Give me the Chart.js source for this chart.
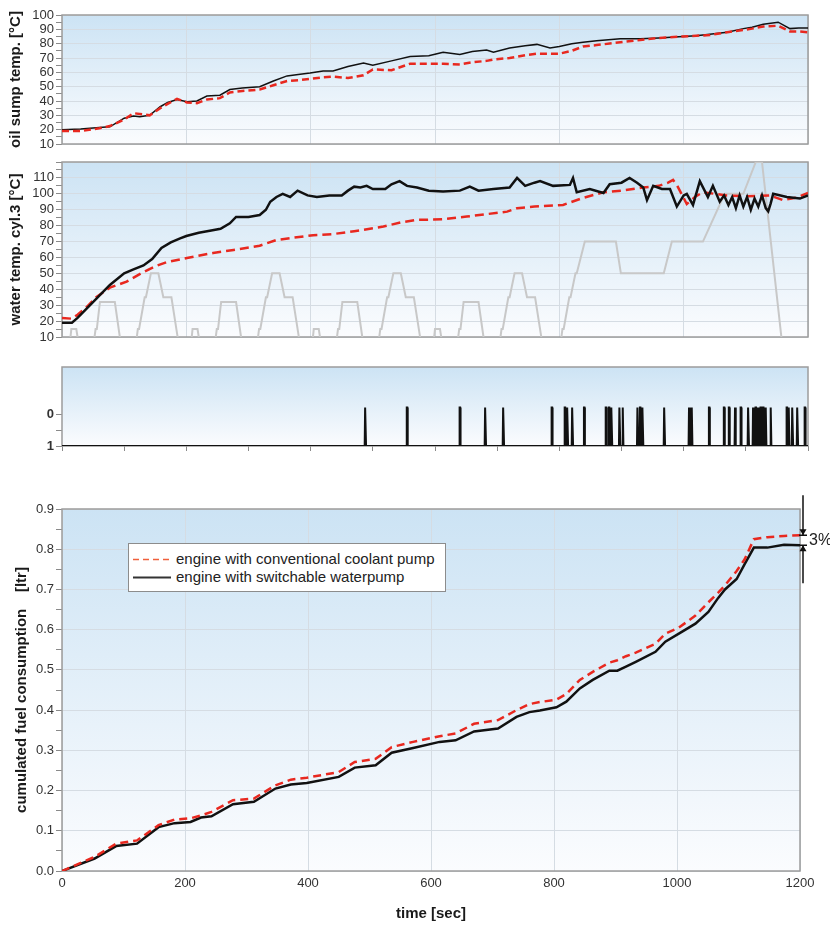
<!DOCTYPE html>
<html>
<head>
<meta charset="utf-8">
<title>engine warm-up and fuel consumption</title>
<script src="https://cdn.jsdelivr.net/npm/chart.js@4.4.0/dist/chart.umd.min.js"></script>
<style>
    html, body { margin: 0; padding: 0; background: #fff; }
    #page { position: relative; width: 830px; height: 925px; overflow: hidden; font-family: "Liberation Sans", Arial, sans-serif; }
    #page canvas { position: absolute; left: 0; }
    #legend { position: absolute; left: 128px; top: 543px; width: 316px; height: 47px; background: #fff; border: 1px solid #8c8c8c; font-size: 15px; color: #222; }
    #legend .row { position: absolute; left: 4px; height: 18px; line-height: 18px; white-space: nowrap; }
    #legend svg { position: absolute; left: 0; top: 8px; }
    #legend span { position: absolute; left: 43px; top: 0; }
</style>
</head>
<body>
<div id="page">
    <canvas id="oilChart" width="830" height="160" style="top:0"></canvas>
    <canvas id="waterChart" width="830" height="205" style="top:145px"></canvas>
    <canvas id="switchChart" width="830" height="125" style="top:350px"></canvas>
    <canvas id="fuelChart" width="830" height="445" style="top:480px"></canvas>
    <div id="legend">
        <div class="row" style="top:6px">
            <svg width="38" height="3"><line x1="0" y1="1.5" x2="38" y2="1.5" stroke="#f0603c" stroke-width="1.5" stroke-dasharray="6,4"/></svg>
            <span>engine with conventional coolant pump</span>
        </div>
        <div class="row" style="top:24px">
            <svg width="38" height="3"><line x1="0" y1="1.5" x2="38" y2="1.5" stroke="#333" stroke-width="2"/></svg>
            <span>engine with switchable waterpump</span>
        </div>
    </div>
</div>
<script>
// oil sump temperature [°C]
var oilTime = [0, 30, 60, 77, 100, 115, 125, 141, 158, 170,
    185, 201, 217, 233, 254, 270, 290, 318, 340, 362,
    380, 399, 420, 436, 460, 485, 500, 530, 560, 590,
    613, 640, 660, 683, 694, 720, 745, 764, 785, 800,
    820, 838, 860, 898, 930, 960, 999, 1020, 1042, 1070,
    1096, 1110, 1128, 1152, 1171, 1185, 1200];
var oilSwitchable = [20, 20.5, 21.5, 22, 28, 29.5, 29, 30, 36, 39,
    41, 39.5, 40, 43.5, 44, 48, 49, 50, 54, 57.5,
    58.5, 59.5, 61, 61, 64, 66.5, 65, 68, 71, 71.5,
    74, 72.5, 74.5, 75.5, 74, 77, 78.5, 79.5, 77, 78,
    80, 81, 82, 83.5, 83.5, 84, 85, 85.5, 86.5, 88,
    90.5, 91.5, 93.5, 95, 90.5, 91, 91];
var oilConventional = [19, 19, 21, 22.5, 27, 31.5, 31, 30, 35, 38,
    41.5, 39, 38.5, 41, 42, 46, 47, 48, 51, 54,
    54.5, 55.5, 56.5, 57, 56, 58, 62, 61.5, 66, 66,
    66, 65.5, 67, 68, 69, 70, 72, 73, 73, 73,
    75, 78, 79, 81, 82.5, 84, 85, 85.5, 86, 88,
    89.5, 90.5, 92, 92.5, 88.5, 88.5, 88];

// water temperature cyl.3 [°C]
var waterTimeSwitchable = [0, 16, 25, 40, 55, 77, 100, 115, 131, 145,
    160, 175, 190, 200, 220, 240, 255, 270, 280, 300,
    318, 328, 335, 345, 355, 367, 379, 395, 410, 430,
    450, 460, 470, 480, 490, 500, 520, 530, 543, 555,
    571, 590, 613, 640, 656, 670, 694, 720, 732, 745,
    760, 769, 790, 817, 822, 828, 849, 871, 881, 900,
    913, 925, 935, 941, 951, 965, 978, 989, 1000, 1005,
    1015, 1026, 1039, 1047, 1058, 1065, 1072, 1078, 1084, 1090,
    1096, 1102, 1108, 1114, 1120, 1126, 1132, 1136, 1140, 1144,
    1166, 1187, 1200];
var waterSwitchable = [19, 19, 22, 28, 34, 42.7, 50, 52.5, 55, 59,
    66, 69.5, 72, 73.5, 75.5, 77, 78, 81.5, 85.5, 85.5,
    86.7, 90, 95, 98, 100, 98, 102, 99, 98, 99,
    99, 102, 104.5, 104, 105, 103, 103, 106, 108, 105,
    104, 102, 101.4, 102, 104.5, 102, 103, 104, 110, 105,
    107, 108, 105, 105.6, 110, 101, 103, 100.5, 106, 107,
    110, 107, 104, 96, 105, 103, 103, 92, 99, 100,
    93, 108, 98, 105, 95, 99, 93, 98, 91, 99,
    92, 98, 90, 97, 92, 99, 91, 89, 94, 100,
    98, 97, 99];
var waterTimeConventional = [0, 16, 25, 40, 55, 77, 104, 131, 152, 168,
    201, 243, 276, 318, 345, 404, 436, 470, 517, 545,
    571, 613, 651, 716, 732, 760, 806, 838, 871, 900,
    935, 960, 975, 983, 989, 1005, 1018, 1031, 1050, 1069,
    1100, 1139, 1160, 1180, 1200];
var waterConventional = [22, 21.5, 24, 29, 35, 41, 44.8, 50.8, 54.8, 57,
    59.7, 62.8, 64.7, 67.4, 71, 74, 74.7, 76.5, 79.4, 82,
    83.6, 84, 85.7, 88.8, 91, 92, 93, 97.4, 101, 102,
    104, 105, 107, 108.7, 105.6, 93.6, 98, 101, 100, 99,
    98.5, 99, 96, 97.5, 100.5];

// vehicle speed of the driving cycle [km/h], grey trace in the water panel
var speedTime = [0, 11, 15, 23, 25, 28, 49, 54, 56, 61, 85, 93, 96, 117, 122, 124, 133, 135, 143, 155, 163, 176, 186, 188,
    195, 206, 210, 218, 220, 223, 244, 249, 251, 256, 280, 288, 291, 312, 317, 319, 328, 330, 338, 350, 358, 371, 381, 383,
    390, 401, 405, 413, 415, 418, 439, 444, 446, 451, 475, 483, 486, 507, 512, 514, 523, 525, 533, 545, 553, 566, 576, 578,
    585, 596, 600, 608, 610, 613, 634, 639, 641, 646, 670, 678, 681, 702, 707, 709, 718, 720, 728, 740, 748, 761, 771, 773,
    780, 800, 805, 807, 816, 818, 826, 828, 841, 891, 899, 968, 981, 1031, 1066, 1096, 1116, 1126, 1160, 1180, 1200];
var speedValue = [0, 0, 15, 15, 10, 0, 0, 15, 15, 32, 32, 10, 0, 0, 15, 15, 35, 35, 50, 50, 35, 35, 10, 0,
    0, 0, 15, 15, 10, 0, 0, 15, 15, 32, 32, 10, 0, 0, 15, 15, 35, 35, 50, 50, 35, 35, 10, 0,
    0, 0, 15, 15, 10, 0, 0, 15, 15, 32, 32, 10, 0, 0, 15, 15, 35, 35, 50, 50, 35, 35, 10, 0,
    0, 0, 15, 15, 10, 0, 0, 15, 15, 32, 32, 10, 0, 0, 15, 15, 35, 35, 50, 50, 35, 35, 10, 0,
    0, 0, 15, 15, 35, 35, 50, 50, 70, 70, 50, 50, 70, 70, 100, 100, 120, 120, 0, 0, 0];

// pump switching signal: moments where it goes from 1 to 0 and back
var switchTimes = [488, 555, 640, 681, 710, 788, 809, 813, 821, 840,
    875, 880, 884, 897, 902, 926, 930, 934, 969, 1009,
    1013, 1041, 1065, 1073, 1083, 1092, 1104, 1112, 1116, 1120,
    1124, 1128, 1132, 1140, 1166, 1169, 1175, 1183, 1195];
var switchPeak = -0.2;

// cumulated fuel consumption [ltr]
var fuelTime = [0, 53, 88, 122, 157, 183, 209, 226, 243, 278,
    312, 347, 372, 398, 450, 476, 510, 536, 571, 614,
    640, 670, 709, 739, 760, 777, 804, 820, 842, 863,
    890, 903, 917, 933, 965, 981, 1003, 1030, 1051, 1067,
    1078, 1097, 1110, 1125, 1147, 1174, 1200];
var fuelSwitchable = [0, 0.031, 0.062, 0.068, 0.109, 0.119, 0.122, 0.133, 0.136, 0.166,
    0.172, 0.205, 0.215, 0.219, 0.234, 0.257, 0.263, 0.294, 0.306, 0.321,
    0.325, 0.347, 0.354, 0.383, 0.395, 0.399, 0.407, 0.421, 0.454, 0.475,
    0.498, 0.498, 0.508, 0.520, 0.545, 0.570, 0.590, 0.615, 0.644, 0.679,
    0.700, 0.726, 0.763, 0.804, 0.804, 0.811, 0.810];
var fuelConventional = [0, 0.035, 0.068, 0.076, 0.114, 0.128, 0.131, 0.138, 0.147, 0.176,
    0.180, 0.213, 0.227, 0.232, 0.246, 0.271, 0.279, 0.308, 0.321, 0.335,
    0.342, 0.366, 0.375, 0.400, 0.415, 0.420, 0.426, 0.440, 0.475, 0.495,
    0.518, 0.524, 0.534, 0.543, 0.565, 0.590, 0.605, 0.635, 0.668, 0.692,
    0.710, 0.746, 0.775, 0.825, 0.830, 0.833, 0.835];
var savingLabel = '3%';

Chart.defaults.font.family = '"Liberation Sans", Arial, Helvetica, sans-serif';
Chart.defaults.font.size = 13;
Chart.defaults.color = '#333';

var RED = '#e8281f';
var BLACK = '#111';
var GRID = '#d5dce3';
var FRAME = '#9c9c9c';
var NONE = 'rgba(0,0,0,0)';

function pairs(xs, ys) {
    return xs.map(function (x, i) { return {x: x, y: ys[i]}; });
}

// blue-to-white plot background and grey frame
var panelStyle = {
    id: 'panelStyle',
    beforeDraw: function (chart) {
        var a = chart.chartArea, ctx = chart.ctx;
        var g = ctx.createLinearGradient(0, a.top, 0, a.bottom);
        g.addColorStop(0, '#cce3f4');
        g.addColorStop(1, '#fbfcfe');
        ctx.save();
        ctx.fillStyle = g;
        ctx.fillRect(a.left, a.top, a.right - a.left, a.bottom - a.top);
        ctx.restore();
    },
    beforeDatasetsDraw: function (chart) {
        var a = chart.chartArea, ctx = chart.ctx;
        ctx.save();
        ctx.strokeStyle = FRAME;
        ctx.lineWidth = 1.5;
        ctx.strokeRect(a.left, a.top, a.right - a.left, a.bottom - a.top);
        ctx.restore();
    }
};

// the arrow pair with "3%" at the end of the fuel curves
var savingMarker = {
    id: 'savingMarker',
    afterDraw: function (chart) {
        var ctx = chart.ctx, y = chart.scales.y, a = chart.chartArea;
        var yTop = y.getPixelForValue(fuelConventional[fuelConventional.length - 1]);
        var yBot = y.getPixelForValue(fuelSwitchable[fuelSwitchable.length - 1]);
        var x = a.right + 3;
        ctx.save();
        ctx.strokeStyle = '#111';
        ctx.fillStyle = '#111';
        ctx.lineWidth = 1.5;
        ctx.beginPath();
        ctx.moveTo(x, yTop - 40); ctx.lineTo(x, yTop);
        ctx.moveTo(x, yBot); ctx.lineTo(x, yBot + 38);
        ctx.moveTo(x - 4, yTop); ctx.lineTo(x + 4, yTop);
        ctx.moveTo(x - 4, yBot); ctx.lineTo(x + 4, yBot);
        ctx.stroke();
        ctx.beginPath();
        ctx.moveTo(x - 3.5, yTop - 6); ctx.lineTo(x + 3.5, yTop - 6); ctx.lineTo(x, yTop);
        ctx.closePath();
        ctx.moveTo(x - 3.5, yBot + 6); ctx.lineTo(x + 3.5, yBot + 6); ctx.lineTo(x, yBot);
        ctx.closePath();
        ctx.fill();
        ctx.font = '16px "Liberation Sans", Arial, sans-serif';
        ctx.textBaseline = 'middle';
        ctx.fillStyle = '#222';
        ctx.fillText(savingLabel, x + 6, (yTop + yBot) / 2);
        ctx.restore();
    }
};

function yTitle(text, padTop) {
    return {display: true, text: text, color: '#1a1a1a', font: {size: 15, weight: 'bold'}, padding: {top: padTop, bottom: 0}};
}

function hiddenTimeAxis(height) {
    return {
        type: 'linear', min: 0, max: 1200,
        afterFit: function (s) { s.height = height; },
        ticks: {display: false, stepSize: 200},
        grid: {color: GRID, drawTicks: false},
        border: {display: false}
    };
}

function tempAxis(min, max, lastLabel, title) {
    return {
        min: min, max: max,
        afterFit: function (s) { s.width = 62; },
        ticks: {
            stepSize: 5, autoSkip: false, padding: 2,
            callback: function (v) { return (v % 10 === 0 && v <= lastLabel) ? v : ''; }
        },
        grid: {
            color: function (c) { return c.tick && c.tick.value % 10 === 0 ? GRID : NONE; },
            tickColor: '#8a8a8a', tickLength: 6
        },
        border: {display: false},
        title: yTitle(title, 7)
    };
}

function baseOptions(padding, xAxis, yAxis) {
    return {
        responsive: false,
        animation: false,
        layout: {padding: padding},
        plugins: {legend: {display: false}, tooltip: {enabled: false}},
        elements: {point: {radius: 0}, line: {tension: 0}},
        scales: {x: xAxis, y: yAxis}
    };
}

// panel 1: oil sump temperature
new Chart(document.getElementById('oilChart'), {
    type: 'line',
    data: {
        datasets: [
            {label: 'engine with conventional coolant pump', data: pairs(oilTime, oilConventional),
                borderColor: RED, borderWidth: 2.5, borderDash: [7, 4]},
            {label: 'engine with switchable waterpump', data: pairs(oilTime, oilSwitchable),
                borderColor: BLACK, borderWidth: 1.5}
        ]
    },
    options: baseOptions({top: 15, right: 22, left: 0, bottom: 0},
        hiddenTimeAxis(16), tempAxis(10, 100, 100, 'oil sump temp. [°C]')),
    plugins: [panelStyle]
});

// panel 2: water temperature plus driving cycle speed
new Chart(document.getElementById('waterChart'), {
    type: 'line',
    data: {
        datasets: [
            {label: 'engine with switchable waterpump', data: pairs(waterTimeSwitchable, waterSwitchable),
                borderColor: BLACK, borderWidth: 2.5},
            {label: 'engine with conventional coolant pump', data: pairs(waterTimeConventional, waterConventional),
                borderColor: RED, borderWidth: 2.5, borderDash: [9, 5]},
            {label: 'vehicle speed', data: pairs(speedTime, speedValue),
                borderColor: '#c8c8c8', borderWidth: 2}
        ]
    },
    options: baseOptions({top: 17, right: 22, left: 0, bottom: 0},
        hiddenTimeAxis(13), tempAxis(10, 120, 110, 'water temp. cyl.3 [°C]')),
    plugins: [panelStyle]
});

// panel 3: pump switching signal
var switchData = [{x: 0, y: 1}];
switchTimes.forEach(function (t) {
    switchData.push({x: t - 1.1, y: 1}, {x: t - 0.4, y: switchPeak}, {x: t + 0.4, y: switchPeak}, {x: t + 1.1, y: 1});
});
switchData.push({x: 1200, y: 1});

new Chart(document.getElementById('switchChart'), {
    type: 'line',
    data: {
        datasets: [
            {label: 'pump switch', data: switchData, borderColor: BLACK, borderWidth: 2}
        ]
    },
    options: baseOptions({top: 17, right: 22, left: 0, bottom: 0},
        {
            type: 'linear', min: 0, max: 1200,
            afterFit: function (s) { s.height = 29; },
            ticks: {display: false, stepSize: 100},
            grid: {drawOnChartArea: false, tickColor: '#8a8a8a', tickLength: 5},
            border: {display: false}
        },
        {
            min: -1.47, max: 1, reverse: true,
            afterFit: function (s) { s.width = 62; },
            afterBuildTicks: function (s) { s.ticks = [{value: 0}, {value: 0.5}, {value: 1}]; },
            ticks: {
                padding: 2, font: {weight: 'bold'},
                callback: function (v) { return v === 0.5 ? '' : v; }
            },
            grid: {drawOnChartArea: false, tickColor: '#8a8a8a', tickLength: 6},
            border: {display: false}
        }),
    plugins: [panelStyle]
});

// panel 4: cumulated fuel consumption
new Chart(document.getElementById('fuelChart'), {
    type: 'line',
    data: {
        datasets: [
            {label: 'engine with conventional coolant pump', data: pairs(fuelTime, fuelConventional),
                borderColor: RED, borderWidth: 2.5, borderDash: [8, 5]},
            {label: 'engine with switchable waterpump', data: pairs(fuelTime, fuelSwitchable),
                borderColor: BLACK, borderWidth: 2.5}
        ]
    },
    options: baseOptions({top: 29, right: 30, left: 0, bottom: 0},
        {
            type: 'linear', min: 0, max: 1200,
            afterFit: function (s) { s.height = 54; },
            ticks: {stepSize: 200, padding: 5, maxRotation: 0, callback: function (v) { return String(v); }},
            grid: {color: GRID, drawTicks: false},
            border: {display: false},
            title: {display: true, text: 'time [sec]', color: '#1a1a1a', font: {size: 15, weight: 'bold'}, padding: {top: 0, bottom: 2}}
        },
        {
            min: 0, max: 0.9,
            afterFit: function (s) { s.width = 62; },
            ticks: {
                stepSize: 0.05, autoSkip: false, padding: 2,
                callback: function (v) { return Math.round(v * 100) % 10 === 0 ? v.toFixed(1) : ''; }
            },
            grid: {
                color: function (c) { return c.tick && Math.round(c.tick.value * 100) % 10 === 0 ? GRID : NONE; },
                tickColor: '#8a8a8a', tickLength: 6
            },
            border: {display: false},
            title: yTitle('cumulated fuel consumption    [ltr]', 13)
        }),
    plugins: [panelStyle, savingMarker]
});
</script>
</body>
</html>
